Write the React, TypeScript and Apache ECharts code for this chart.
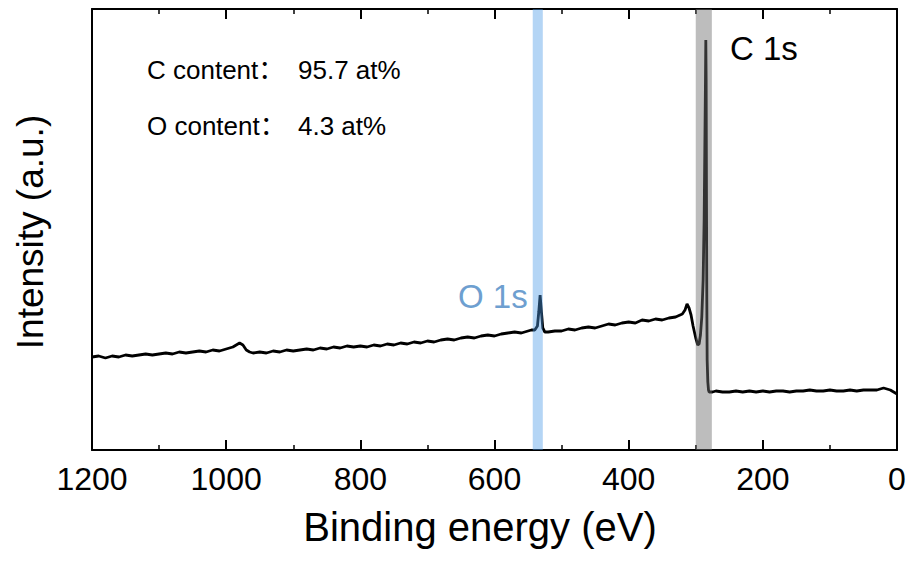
import React, { useEffect, useRef } from "react";
import * as echarts from "echarts";

// Binding energy (eV) and intensity (a.u.)
const energies = [
  1200, 1190, 1180, 1170, 1160, 1150, 1140, 1130, 1120, 1110, 1100, 1090, 1080, 1070, 1060, 1050,
  1040, 1030, 1020, 1010, 1000, 990, 985, 980, 975, 970, 965, 960, 950, 940, 930, 920, 910, 900,
  890, 880, 870, 860, 850, 840, 830, 820, 810, 800, 790, 780, 770, 760, 750, 740, 730, 720, 710,
  700, 690, 680, 670, 660, 650, 640, 630, 620, 610, 600, 590, 580, 570, 560, 550, 545, 540, 536,
  534, 532, 530, 528, 525, 520, 510, 500, 490, 480, 470, 460, 450, 440, 430, 420, 410, 400, 390,
  380, 370, 360, 350, 340, 330, 320, 316, 313, 310, 307, 304, 300, 297, 295, 293, 291, 289, 287.5,
  286.5, 285.5, 285, 284.5, 284, 283.5, 283, 282, 281, 280, 275, 270, 260, 250, 240, 230, 220, 210,
  200, 190, 180, 170, 160, 150, 140, 130, 120, 110, 100, 90, 80, 70, 60, 50, 40, 30, 25, 20, 15,
  10, 5, 0,
];
const intensities = [
  93, 94, 92, 94, 93, 95, 94, 95, 96, 95, 96, 97, 96, 98, 97, 98,
  99, 98, 100, 99, 101, 103, 105, 107, 105, 100, 98, 97, 98, 97, 99, 98, 100, 99,
  100, 101, 100, 102, 101, 103, 102, 104, 103, 104, 103, 105, 104, 106, 105, 107, 106, 108, 107,
  109, 108, 110, 111, 110, 112, 113, 112, 114, 115, 114, 116, 117, 118, 117, 119, 120, 120, 124,
  138, 155, 138, 122, 118, 118, 119, 119, 121, 120, 122, 123, 122, 124, 126, 125, 127, 128, 127,
  130, 129, 131, 130, 132, 133, 136, 140, 146, 142, 135, 124, 112, 105, 106, 115, 133, 170, 230,
  300, 370, 410, 370, 250, 150, 90, 68, 60, 58, 58, 59, 58, 58, 59, 58, 59, 58,
  59, 58, 59, 59, 58, 59, 59, 60, 59, 59, 60, 59, 59, 60, 59, 60, 60, 60, 61, 62, 61,
  60, 58, 56,
];

// Highlighted regions (eV)
const o1sBand = [543, 528];
const c1sBand = [300, 276];

const tickValues = [1200, 1000, 800, 600, 400, 200, 0];

const FONT = "'Liberation Sans', Arial, 'Noto Sans CJK SC', sans-serif";

export default function App() {
  const ref = useRef<HTMLDivElement>(null);

  useEffect(() => {
    if (!ref.current) return;
    const chart = echarts.init(ref.current, undefined, { renderer: "svg" });
    const data = energies.map((e, i) => [e, intensities[i]]);

    const xBase = {
      type: "value" as const,
      min: tickValues[tickValues.length - 1],
      max: tickValues[0],
      interval: 200,
      inverse: true,
      splitLine: { show: false },
      axisLine: { show: true, onZero: false, lineStyle: { color: "#000", width: 2 } },
      axisTick: { show: true, inside: true, length: 10, lineStyle: { color: "#000", width: 2 } },
      minorTick: { show: true, splitNumber: 2, length: 5, lineStyle: { color: "#000", width: 1.5 } },
    };
    const yBase = {
      type: "value" as const,
      min: 0,
      max: 441,
      splitLine: { show: false },
      axisTick: { show: false },
      axisLabel: { show: false },
      axisLine: { show: true, onZero: false, lineStyle: { color: "#000", width: 2 } },
    };

    const txt = (text: string, x: number, y: number, size: number, fill = "#000", extra = {}) => ({
      type: "text",
      x,
      y,
      ...extra,
      style: { text, fontSize: size, fontFamily: FONT, fill, verticalAlign: "middle", ...(extra as any).style },
    });

    chart.setOption({
      animation: false,
      backgroundColor: "#fff",
      grid: { left: 92, right: 14, top: 9, bottom: 115 },
      xAxis: [
        {
          ...xBase,
          position: "bottom",
          axisLabel: {
            fontSize: 32,
            color: "#000",
            fontFamily: FONT,
            margin: 13,
            formatter: (v: number) => String(v),
          },
        },
        { ...xBase, position: "top", axisLabel: { show: false } },
      ],
      yAxis: [
        { ...yBase, position: "left" },
        { ...yBase, position: "right" },
      ],
      series: [
        {
          type: "line",
          data,
          showSymbol: false,
          z: 2,
          lineStyle: { color: "#000", width: 2.8 },
          silent: true,
        },
        {
          type: "line",
          data: [],
          z: 10,
          silent: true,
          markArea: {
            silent: true,
            z: 10,
            data: [
              [
                { xAxis: o1sBand[0], itemStyle: { color: "rgba(76,154,232,0.42)" } },
                { xAxis: o1sBand[1] },
              ],
              [
                { xAxis: c1sBand[0], itemStyle: { color: "rgba(111,111,111,0.46)" } },
                { xAxis: c1sBand[1] },
              ],
            ],
          },
        },
      ],
      graphic: [
        txt("C content：", 147, 70, 26),
        txt("95.7 at%", 298, 70, 26),
        txt("O content：", 147, 126, 26),
        txt("4.3 at%", 298, 126, 26),
        txt("C 1s", 730, 48, 33),
        txt("O 1s", 458, 296, 33, "#6e9fd0"),
        txt("Binding energy (eV)", 480, 527, 40, "#000", { style: { align: "center" } }),
        txt("Intensity (a.u.)", 30, 232, 37, "#000", {
          rotation: Math.PI / 2,
          style: { align: "center" },
        }),
      ],
    });

    return () => chart.dispose();
  }, []);

  return (
    <div
      ref={ref}
      style={{ position: "fixed", left: 0, top: 0, width: 911, height: 565, background: "#fff" }}
    />
  );
}
